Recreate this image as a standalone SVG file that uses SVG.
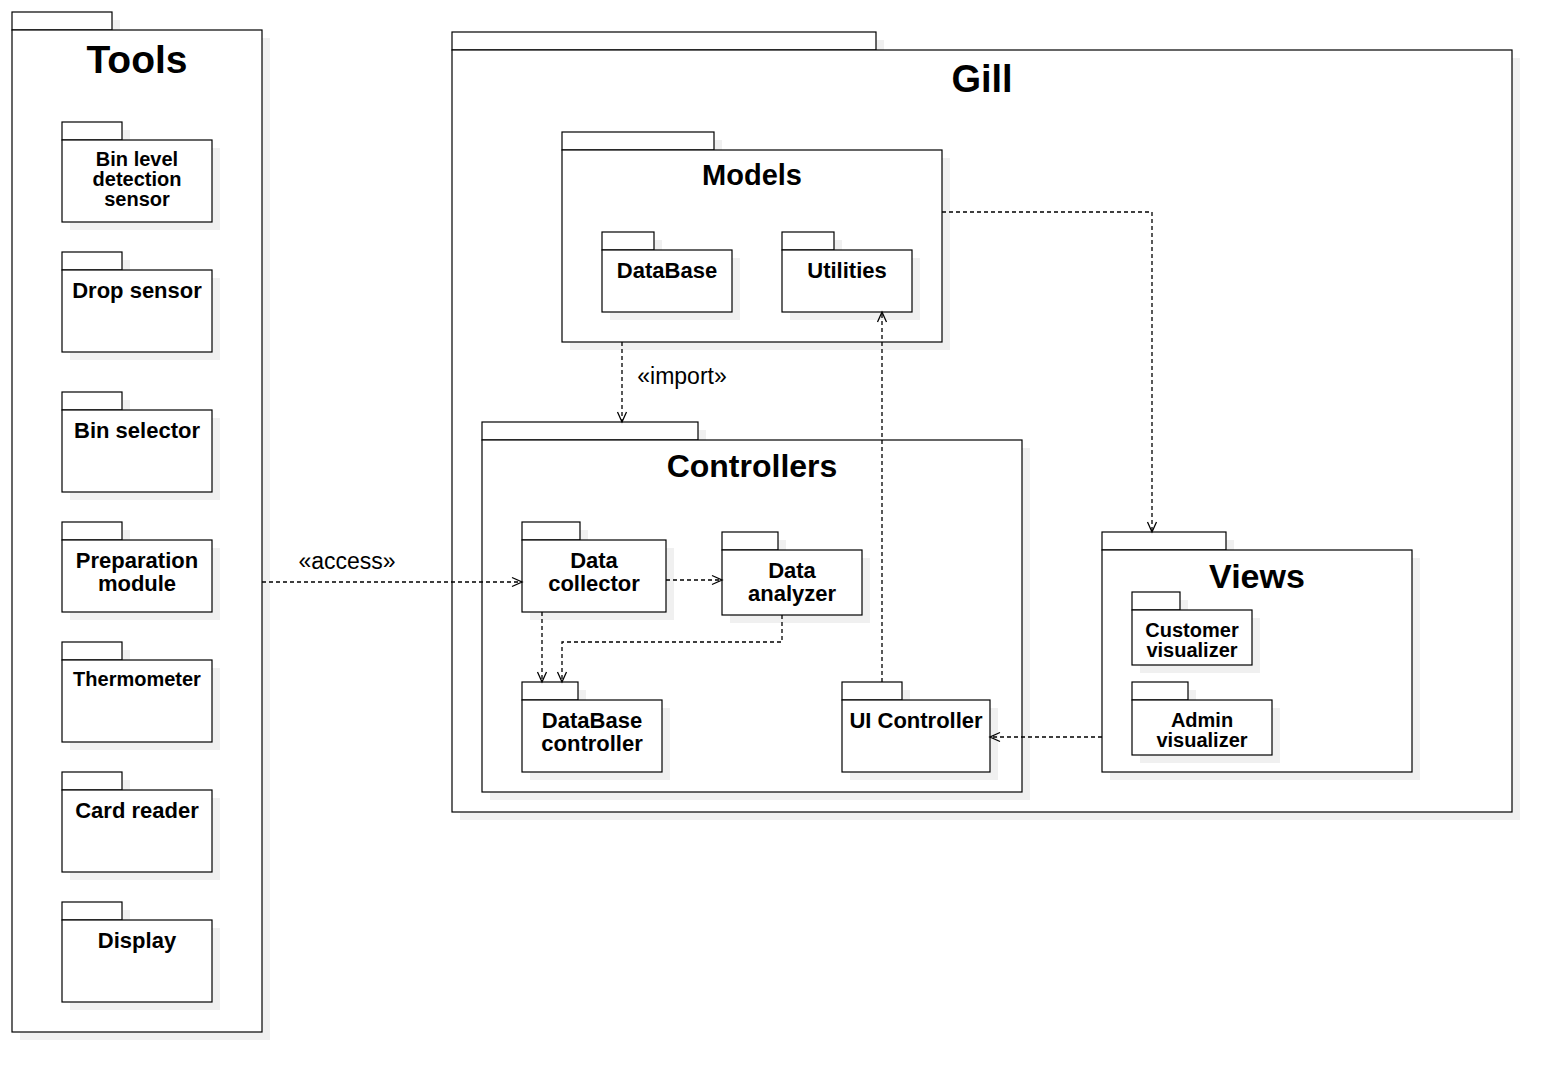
<svg xmlns="http://www.w3.org/2000/svg" width="1562" height="1082" viewBox="0 0 1562 1082">
<style>
.sh{fill:#f0f0f0;stroke:none}
.b{fill:#fff;stroke:#000;stroke-width:1.2}
.t{font-family:"Liberation Sans",Arial,sans-serif;font-weight:bold;text-anchor:middle;fill:#000}
.s20{font-size:20px}
.s22{font-size:22px}
.lbl{font-family:"Liberation Sans",Arial,sans-serif;font-size:23px;text-anchor:middle;fill:#000}
.e{fill:none;stroke:#000;stroke-width:1.3;stroke-dasharray:4 3}
</style>
<defs>
<marker id="open" markerWidth="14" markerHeight="14" refX="11" refY="6" orient="auto" markerUnits="userSpaceOnUse">
<path d="M1,1.5 L11,6 L1,10.5" fill="none" stroke="#000" stroke-width="1.3"/>
</marker>
</defs>
<rect width="1562" height="1082" fill="#fff"/>

<!-- Tools -->
<g id="tools">
<rect class="sh" x="20" y="20" width="100" height="18"/><rect class="sh" x="20" y="38" width="250" height="1002"/>
<rect class="b" x="12" y="12" width="100" height="18"/><rect class="b" x="12" y="30" width="250" height="1002"/>
<text class="t" x="137" y="73" font-size="39">Tools</text>
</g>
<g id="bin-level">
<rect class="sh" x="70" y="130" width="60" height="18"/><rect class="sh" x="70" y="148" width="150" height="82"/>
<rect class="b" x="62" y="122" width="60" height="18"/><rect class="b" x="62" y="140" width="150" height="82"/>
<text class="t s20" x="137" y="166">Bin level</text><text class="t s20" x="137" y="186">detection</text><text class="t s20" x="137" y="206">sensor</text>
</g>
<g id="drop-sensor">
<rect class="sh" x="70" y="260" width="60" height="18"/><rect class="sh" x="70" y="278" width="150" height="82"/>
<rect class="b" x="62" y="252" width="60" height="18"/><rect class="b" x="62" y="270" width="150" height="82"/>
<text class="t s22" x="137" y="298">Drop sensor</text>
</g>
<g id="bin-selector">
<rect class="sh" x="70" y="400" width="60" height="18"/><rect class="sh" x="70" y="418" width="150" height="82"/>
<rect class="b" x="62" y="392" width="60" height="18"/><rect class="b" x="62" y="410" width="150" height="82"/>
<text class="t s22" x="137" y="438">Bin selector</text>
</g>
<g id="preparation">
<rect class="sh" x="70" y="530" width="60" height="18"/><rect class="sh" x="70" y="548" width="150" height="72"/>
<rect class="b" x="62" y="522" width="60" height="18"/><rect class="b" x="62" y="540" width="150" height="72"/>
<text class="t s22" x="137" y="568">Preparation</text><text class="t s22" x="137" y="591">module</text>
</g>
<g id="thermometer">
<rect class="sh" x="70" y="650" width="60" height="18"/><rect class="sh" x="70" y="668" width="150" height="82"/>
<rect class="b" x="62" y="642" width="60" height="18"/><rect class="b" x="62" y="660" width="150" height="82"/>
<text class="t s20" x="137" y="686">Thermometer</text>
</g>
<g id="card-reader">
<rect class="sh" x="70" y="780" width="60" height="18"/><rect class="sh" x="70" y="798" width="150" height="82"/>
<rect class="b" x="62" y="772" width="60" height="18"/><rect class="b" x="62" y="790" width="150" height="82"/>
<text class="t s22" x="137" y="818">Card reader</text>
</g>
<g id="display">
<rect class="sh" x="70" y="910" width="60" height="18"/><rect class="sh" x="70" y="928" width="150" height="82"/>
<rect class="b" x="62" y="902" width="60" height="18"/><rect class="b" x="62" y="920" width="150" height="82"/>
<text class="t s22" x="137" y="948">Display</text>
</g>

<!-- Gill -->
<g id="gill">
<rect class="sh" x="460" y="40" width="424" height="18"/><rect class="sh" x="460" y="58" width="1060" height="762"/>
<rect class="b" x="452" y="32" width="424" height="18"/><rect class="b" x="452" y="50" width="1060" height="762"/>
<text class="t" x="982" y="92" font-size="38">Gill</text>
</g>
<g id="models">
<rect class="sh" x="570" y="140" width="152" height="18"/><rect class="sh" x="570" y="158" width="380" height="192"/>
<rect class="b" x="562" y="132" width="152" height="18"/><rect class="b" x="562" y="150" width="380" height="192"/>
<text class="t" x="752" y="185" font-size="29">Models</text>
</g>
<g id="database">
<rect class="sh" x="610" y="240" width="52" height="18"/><rect class="sh" x="610" y="258" width="130" height="62"/>
<rect class="b" x="602" y="232" width="52" height="18"/><rect class="b" x="602" y="250" width="130" height="62"/>
<text class="t s22" x="667" y="278">DataBase</text>
</g>
<g id="utilities">
<rect class="sh" x="790" y="240" width="52" height="18"/><rect class="sh" x="790" y="258" width="130" height="62"/>
<rect class="b" x="782" y="232" width="52" height="18"/><rect class="b" x="782" y="250" width="130" height="62"/>
<text class="t s22" x="847" y="278">Utilities</text>
</g>
<g id="controllers">
<rect class="sh" x="490" y="430" width="216" height="18"/><rect class="sh" x="490" y="448" width="540" height="352"/>
<rect class="b" x="482" y="422" width="216" height="18"/><rect class="b" x="482" y="440" width="540" height="352"/>
<text class="t" x="752" y="477" font-size="32">Controllers</text>
</g>
<g id="data-collector">
<rect class="sh" x="530" y="530" width="58" height="18"/><rect class="sh" x="530" y="548" width="144" height="72"/>
<rect class="b" x="522" y="522" width="58" height="18"/><rect class="b" x="522" y="540" width="144" height="72"/>
<text class="t s22" x="594" y="568">Data</text><text class="t s22" x="594" y="591">collector</text>
</g>
<g id="data-analyzer">
<rect class="sh" x="730" y="540" width="56" height="18"/><rect class="sh" x="730" y="558" width="140" height="65"/>
<rect class="b" x="722" y="532" width="56" height="18"/><rect class="b" x="722" y="550" width="140" height="65"/>
<text class="t s22" x="792" y="578">Data</text><text class="t s22" x="792" y="601">analyzer</text>
</g>
<g id="database-controller">
<rect class="sh" x="530" y="690" width="56" height="18"/><rect class="sh" x="530" y="708" width="140" height="72"/>
<rect class="b" x="522" y="682" width="56" height="18"/><rect class="b" x="522" y="700" width="140" height="72"/>
<text class="t s22" x="592" y="728">DataBase</text><text class="t s22" x="592" y="751">controller</text>
</g>
<g id="ui-controller">
<rect class="sh" x="850" y="690" width="60" height="18"/><rect class="sh" x="850" y="708" width="148" height="72"/>
<rect class="b" x="842" y="682" width="60" height="18"/><rect class="b" x="842" y="700" width="148" height="72"/>
<text class="t s22" x="916" y="728">UI Controller</text>
</g>
<g id="views">
<rect class="sh" x="1110" y="540" width="124" height="18"/><rect class="sh" x="1110" y="558" width="310" height="222"/>
<rect class="b" x="1102" y="532" width="124" height="18"/><rect class="b" x="1102" y="550" width="310" height="222"/>
<text class="t" x="1257" y="588" font-size="34">Views</text>
</g>
<g id="customer-visualizer">
<rect class="sh" x="1140" y="600" width="48" height="18"/><rect class="sh" x="1140" y="618" width="120" height="55"/>
<rect class="b" x="1132" y="592" width="48" height="18"/><rect class="b" x="1132" y="610" width="120" height="55"/>
<text class="t s20" x="1192" y="637">Customer</text><text class="t s20" x="1192" y="657">visualizer</text>
</g>
<g id="admin-visualizer">
<rect class="sh" x="1140" y="690" width="56" height="18"/><rect class="sh" x="1140" y="708" width="140" height="55"/>
<rect class="b" x="1132" y="682" width="56" height="18"/><rect class="b" x="1132" y="700" width="140" height="55"/>
<text class="t s20" x="1202" y="727">Admin</text><text class="t s20" x="1202" y="747">visualizer</text>
</g>

<!-- Connectors -->
<g id="connectors">
<path class="e" d="M262,582 L522,582" marker-end="url(#open)"/>
<text class="lbl" x="347" y="569">«access»</text>
<path class="e" d="M622,342 L622,422" marker-end="url(#open)"/>
<text class="lbl" x="682" y="384">«import»</text>
<path class="e" d="M942,212 L1152,212 L1152,532" marker-end="url(#open)"/>
<path class="e" d="M666,580 L722,580" marker-end="url(#open)"/>
<path class="e" d="M542,612 L542,682" marker-end="url(#open)"/>
<path class="e" d="M782,615 L782,642 L562,642 L562,682" marker-end="url(#open)"/>
<path class="e" d="M882,682 L882,312" marker-end="url(#open)"/>
<path class="e" d="M1102,737 L990,737" marker-end="url(#open)"/>
</g>
</svg>
